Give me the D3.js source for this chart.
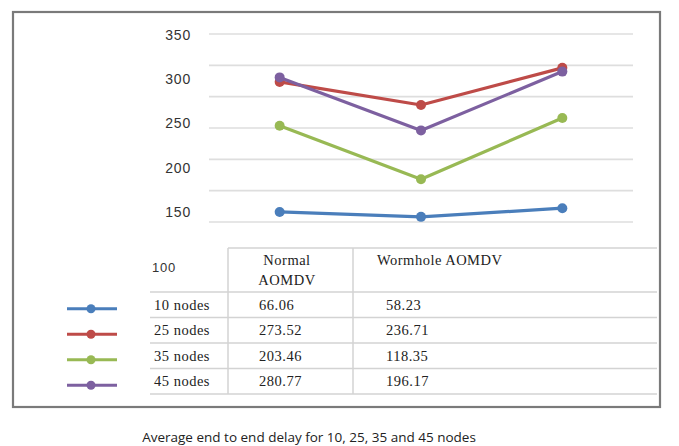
<!DOCTYPE html>
<html><head><meta charset="utf-8">
<script src="https://cdn.jsdelivr.net/npm/d3@7/dist/d3.min.js"></script>
<style>html,body{margin:0;padding:0;background:#fff;}svg{display:block;}</style>
</head><body>
<script>
// ---- data ----
const categories = ["Normal AOMDV", "Wormhole AOMDV", ""];
const seriesNames = ["10 nodes", "25 nodes", "35 nodes", "45 nodes"];
const seriesColors = ["#4a7ebb", "#be4b48", "#98b954", "#7d60a0"];
const values10 = [66.06, 58.23, 72];
const values25 = [273.52, 236.71, 296];
const values35 = [203.46, 118.35, 216];
const values45 = [280.77, 196.17, 290];
const tableNormal = ["66.06", "273.52", "203.46", "280.77"];
const tableWormhole = ["58.23", "236.71", "118.35", "196.17"];
const gridValues = [50, 100, 150, 200, 250, 300, 350];
const axisLabels = [350, 300, 250, 200, 150];
const cornerLabel = "100";
const caption = "Average end to end delay for 10, 25, 35 and 45 nodes";

const allSeries = [values10, values25, values35, values45];

const W = 679, H = 446;
const svg = d3.select("body").append("svg").attr("width", W).attr("height", H);

// frame
svg.append("rect").attr("x", 13).attr("y", 12).attr("width", 647).attr("height", 395)
  .attr("fill", "#fff").attr("stroke", "#7a7a7a").attr("stroke-width", 2.2);

// scales
const x = d3.scaleBand().domain(d3.range(categories.length)).range([209, 633]);
const y = d3.scaleLinear().domain([50, 350]).range([222, 34]);
const labelScale = d3.scaleLinear().domain([150, 350]).range([212, 35]);

// gridlines
svg.append("g").selectAll("line").data(gridValues).join("line")
  .attr("x1", 209).attr("x2", 633)
  .attr("y1", d => y(d)).attr("y2", d => y(d))
  .attr("stroke", "#dedede").attr("stroke-width", 1.6);

const sans = "Liberation Sans, Arial, sans-serif";
// axis labels
svg.append("g").selectAll("text").data(axisLabels).join("text")
  .attr("x", 191).attr("y", d => labelScale(d)).attr("dy", "0.35em")
  .attr("text-anchor", "end")
  .attr("font-family", sans).attr("font-size", 14).attr("letter-spacing", 0.8)
  .attr("fill", "#333").text(d => d);

// lines
const line = d3.line().x((d, i) => x(i) + x.bandwidth() / 2).y(d => y(d));
const gS = svg.append("g");
allSeries.forEach((vals, si) => {
  gS.append("path").datum(vals).attr("d", line)
    .attr("fill", "none").attr("stroke", seriesColors[si]).attr("stroke-width", 3.2)
    .attr("stroke-linejoin", "round");
  gS.selectAll(null).data(vals).join("circle")
    .attr("cx", (d, i) => x(i) + x.bandwidth() / 2).attr("cy", d => y(d)).attr("r", 5)
    .attr("fill", seriesColors[si]);
});

// data table
const rows = d3.scaleBand().domain(seriesNames).range([292, 394]);
const tg = svg.append("g");
const tStroke = "#d3d3d3";
tg.append("line").attr("x1", 228).attr("x2", 657).attr("y1", 248).attr("y2", 248).attr("stroke", tStroke).attr("stroke-width", 1.5);
tg.selectAll(null).data([292].concat(seriesNames.map(s => rows(s) + rows.bandwidth()))).join("line")
  .attr("x1", 150).attr("x2", 657).attr("y1", d => d).attr("y2", d => d)
  .attr("stroke", tStroke).attr("stroke-width", 1.5);
tg.selectAll(null).data([228, 353]).join("line")
  .attr("x1", d => d).attr("x2", d => d).attr("y1", 248).attr("y2", 394)
  .attr("stroke", tStroke).attr("stroke-width", 1.5);

const serif = "Liberation Serif, Times New Roman, serif";
function tt(xp, yp, str, anchor) {
  return tg.append("text").attr("x", xp).attr("y", yp).attr("dy", "0.35em")
    .attr("text-anchor", anchor || "start")
    .attr("font-family", serif).attr("font-size", 14.5).attr("letter-spacing", 0.5)
    .attr("fill", "#222").text(str);
}
tg.append("text").attr("x", 152).attr("y", 267).attr("dy", "0.35em")
  .attr("font-family", sans).attr("font-size", 13).attr("letter-spacing", 0.8)
  .attr("fill", "#333").text(cornerLabel);
tt(287, 260, categories[0].split(" ")[0], "middle");
tt(287, 280, categories[0].split(" ")[1], "middle");
tt(377, 260, categories[1]);

seriesNames.forEach((s, i) => {
  const cy = rows(s) + rows.bandwidth() / 2;
  tt(154, cy, s);
  tt(259, cy, tableNormal[i]);
  tt(386, cy, tableWormhole[i]);
  const ky = cy + 4;
  tg.append("line").attr("x1", 67).attr("x2", 117).attr("y1", ky).attr("y2", ky)
    .attr("stroke", seriesColors[i]).attr("stroke-width", 3.2);
  tg.append("circle").attr("cx", 91).attr("cy", ky).attr("r", 4.5).attr("fill", seriesColors[i]);
});

// caption
svg.append("text").attr("x", 309).attr("y", 437).attr("dy", "0.35em").attr("text-anchor", "middle")
  .attr("font-family", "Open Sans, Liberation Sans, sans-serif").attr("font-size", 13.5)
  .attr("fill", "#222").text(caption);
</script>
</body></html>
